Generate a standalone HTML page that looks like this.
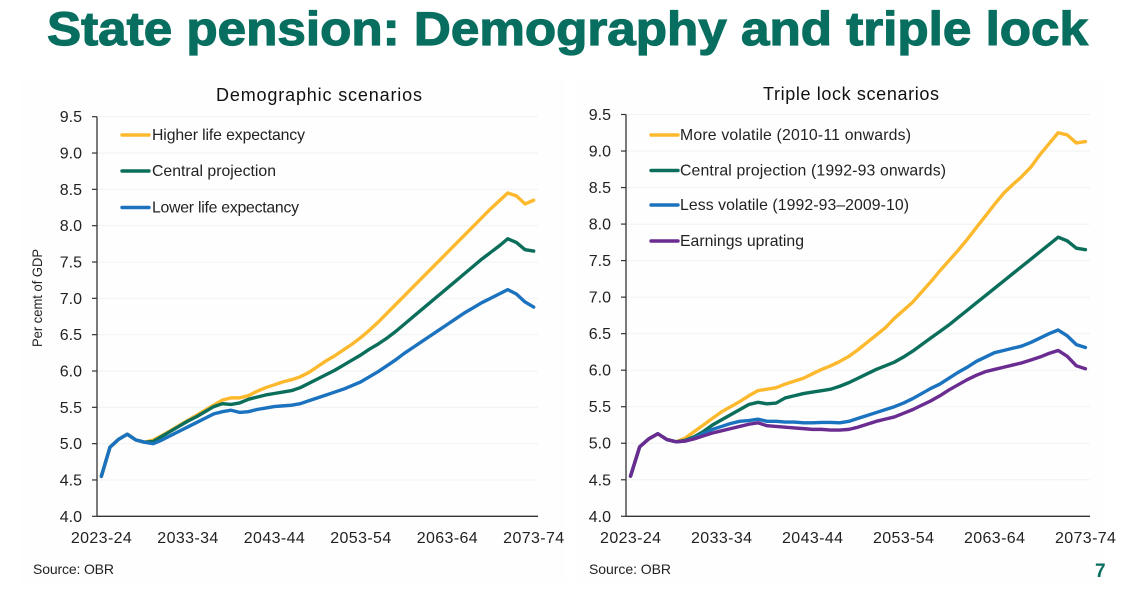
<!DOCTYPE html>
<html lang="en">
<head>
<meta charset="utf-8">
<title>State pension: Demography and triple lock</title>
<style>
html,body{margin:0;padding:0;background:#fff;}
svg{display:block;font-family:"Liberation Sans",sans-serif;}
</style>
</head>
<body>
<svg id="slide" width="1146" height="592" viewBox="0 0 1146 592" xmlns="http://www.w3.org/2000/svg">
  <rect width="1146" height="592" fill="#ffffff"/>
  <rect x="20" y="78" width="545" height="505" fill="#fefefe"/>
  <rect x="575" y="78" width="530" height="505" fill="#fefefe"/>
  <text x="47" y="45" font-size="47" font-weight="700" fill="#086e5f" stroke="#086e5f" stroke-width="1.2" textLength="1041" lengthAdjust="spacingAndGlyphs">State pension: Demography and triple lock</text>

  <text x="319" y="101" font-size="18" text-anchor="middle" fill="#111" textLength="206">Demographic scenarios</text>
  <text x="851" y="100" font-size="18" text-anchor="middle" fill="#111" textLength="176">Triple lock scenarios</text>

  <g id="left-plot"></g>
  <g id="right-plot"></g>

  <text transform="translate(42,298) rotate(-90)" font-size="14" text-anchor="middle" fill="#222" textLength="98" lengthAdjust="spacingAndGlyphs">Per cemt of GDP</text>

  <g font-size="15.8" fill="#222">
    <line x1="122" x2="149" y1="135" y2="135" stroke="#fdb92e" stroke-width="3.4" stroke-linecap="round"/>
    <text x="152" y="140" textLength="153">Higher life expectancy</text>
    <line x1="122" x2="149" y1="171" y2="171" stroke="#0b6e5b" stroke-width="3.4" stroke-linecap="round"/>
    <text x="152" y="176" textLength="124">Central projection</text>
    <line x1="122" x2="149" y1="207.5" y2="207.5" stroke="#1b72be" stroke-width="3.4" stroke-linecap="round"/>
    <text x="152" y="212.5" textLength="147">Lower life expectancy</text>
  </g>
  <g font-size="15.8" fill="#222">
    <line x1="651" x2="678" y1="135" y2="135" stroke="#fdb92e" stroke-width="3.4" stroke-linecap="round"/>
    <text x="680" y="140" textLength="231">More volatile (2010-11 onwards)</text>
    <line x1="651" x2="678" y1="170.5" y2="170.5" stroke="#0b6e5b" stroke-width="3.4" stroke-linecap="round"/>
    <text x="680" y="175.5" textLength="266">Central projection (1992-93 onwards)</text>
    <line x1="651" x2="678" y1="205" y2="205" stroke="#1b72be" stroke-width="3.4" stroke-linecap="round"/>
    <text x="680" y="210" textLength="229">Less volatile (1992-93–2009-10)</text>
    <line x1="651" x2="678" y1="241" y2="241" stroke="#6a2c91" stroke-width="3.4" stroke-linecap="round"/>
    <text x="680" y="246" textLength="124">Earnings uprating</text>
  </g>

  <text x="33" y="574" font-size="14" fill="#222" textLength="81">Source: OBR</text>
  <text x="589" y="574" font-size="14" fill="#222" textLength="82">Source: OBR</text>
  <text x="1095" y="577" font-size="19" font-weight="700" fill="#086e5f">7</text>
</svg>
<script>
var yTicks = ["4.0","4.5","5.0","5.5","6.0","6.5","7.0","7.5","8.0","8.5","9.0","9.5"];
var xTickLabels = ["2023-24","2033-34","2043-44","2053-54","2063-64","2073-74"];
var xTickEvery = 10;

var demoHigher = [4.55,4.95,5.06,5.13,5.05,5.02,5.05,5.11,5.18,5.25,5.32,5.39,5.46,5.53,5.60,5.63,5.63,5.66,5.72,5.77,5.81,5.85,5.88,5.92,5.98,6.06,6.14,6.21,6.29,6.37,6.46,6.56,6.67,6.79,6.91,7.03,7.15,7.27,7.39,7.51,7.63,7.75,7.87,7.99,8.11,8.23,8.34,8.45,8.41,8.30,8.35];
var demoCentral = [4.55,4.95,5.06,5.13,5.05,5.02,5.03,5.10,5.17,5.24,5.31,5.37,5.44,5.51,5.55,5.54,5.56,5.61,5.64,5.67,5.69,5.71,5.73,5.77,5.83,5.89,5.95,6.01,6.08,6.15,6.22,6.30,6.37,6.45,6.54,6.64,6.74,6.84,6.94,7.04,7.14,7.24,7.34,7.44,7.54,7.63,7.72,7.82,7.77,7.67,7.65];
var demoLower = [4.55,4.95,5.06,5.13,5.05,5.02,5.00,5.05,5.11,5.17,5.23,5.29,5.35,5.41,5.44,5.46,5.43,5.44,5.47,5.49,5.51,5.52,5.53,5.55,5.59,5.63,5.67,5.71,5.75,5.80,5.85,5.92,5.99,6.07,6.15,6.24,6.32,6.40,6.48,6.56,6.64,6.72,6.80,6.87,6.94,7.00,7.06,7.12,7.06,6.95,6.88];

var tripleMore = [4.55,4.95,5.06,5.13,5.05,5.02,5.07,5.16,5.25,5.34,5.43,5.50,5.57,5.65,5.72,5.74,5.76,5.81,5.85,5.89,5.95,6.01,6.06,6.12,6.19,6.28,6.38,6.48,6.58,6.71,6.82,6.93,7.07,7.21,7.36,7.50,7.64,7.79,7.95,8.11,8.27,8.42,8.54,8.65,8.78,8.95,9.10,9.25,9.22,9.11,9.13];
var tripleCentral = [4.55,4.95,5.06,5.13,5.05,5.02,5.04,5.09,5.16,5.25,5.32,5.39,5.46,5.53,5.56,5.54,5.55,5.62,5.65,5.68,5.70,5.72,5.74,5.78,5.83,5.89,5.95,6.01,6.06,6.11,6.18,6.26,6.35,6.44,6.53,6.62,6.72,6.82,6.92,7.02,7.12,7.22,7.32,7.42,7.52,7.62,7.72,7.82,7.77,7.67,7.65];
var tripleLess = [4.55,4.95,5.06,5.13,5.05,5.02,5.03,5.07,5.13,5.19,5.23,5.27,5.30,5.31,5.33,5.30,5.30,5.29,5.29,5.28,5.28,5.285,5.285,5.28,5.30,5.34,5.38,5.42,5.46,5.50,5.55,5.61,5.68,5.75,5.81,5.89,5.97,6.04,6.12,6.18,6.24,6.27,6.30,6.33,6.38,6.44,6.50,6.55,6.47,6.35,6.31];
var tripleEarnings = [4.55,4.95,5.06,5.13,5.05,5.02,5.03,5.06,5.10,5.14,5.17,5.20,5.23,5.26,5.28,5.24,5.23,5.22,5.21,5.20,5.19,5.19,5.18,5.18,5.19,5.22,5.26,5.30,5.33,5.36,5.41,5.46,5.52,5.58,5.65,5.73,5.80,5.87,5.93,5.98,6.01,6.04,6.07,6.10,6.14,6.18,6.23,6.27,6.19,6.06,6.02];

var NS = "http://www.w3.org/2000/svg";

function mk(parent, tag, attrs) {
  var el = document.createElementNS(NS, tag);
  for (var k in attrs) { el.setAttribute(k, attrs[k]); }
  parent.appendChild(el);
  return el;
}

function drawChart(groupId, left, right, top, bottom, tickRight, series) {
  var g = document.getElementById(groupId);
  var vMin = parseFloat(yTicks[0]);
  var vMax = parseFloat(yTicks[yTicks.length - 1]);
  var n = series[0].values.length;
  function xScale(i) { return left + (right - left) * (i + 0.5) / n; }
  function yScale(v) { return bottom - (bottom - top) * (v - vMin) / (vMax - vMin); }

  yTicks.forEach(function (t) {
    var y = yScale(parseFloat(t));
    if (parseFloat(t) > vMin) {
      var grid = mk(g, "line", {x1: left, x2: right, y1: y, y2: y, stroke: "#f2f2f2", "stroke-width": 1});
      
      
    }
    var tick = mk(g, "line", {x1: left - 5, x2: left, y1: y, y2: y, stroke: "#333", "stroke-width": 1.2});
    
    
    var label = mk(g, "text", {x: tickRight, y: y + 5.5, "font-size": 16, "text-anchor": "end", fill: "#222"});
    label.textContent = t;
    
    
  });

  xTickLabels.forEach(function (t, idx) {
    var label = mk(g, "text", {x: xScale(idx * xTickEvery), y: 543, "font-size": 16, "text-anchor": "middle", fill: "#222", textLength: 61});
    label.textContent = t;
    
    
  });

  var yAxis = mk(g, "line", {x1: left, x2: left, y1: top, y2: bottom, stroke: "#333", "stroke-width": 1.3});
  
  
  var xAxis = mk(g, "line", {x1: left, x2: right, y1: bottom, y2: bottom, stroke: "#333", "stroke-width": 1.3});
  
  

  series.forEach(function (s) {
    var pts = s.values.map(function (v, i) { return xScale(i).toFixed(2) + "," + yScale(v).toFixed(2); }).join(" ");
    var line = mk(g, "polyline", {points: pts, fill: "none", stroke: s.color, "stroke-width": 3.4, "stroke-linejoin": "round", "stroke-linecap": "round"});
    
    
  });
}

drawChart("left-plot", 97, 538, 116.7, 516.3, 82, [
  {name: "series-higher-life-expectancy", color: "#fdb92e", values: demoHigher},
  {name: "series-central-projection", color: "#0b6e5b", values: demoCentral},
  {name: "series-lower-life-expectancy", color: "#1b72be", values: demoLower}
]);
drawChart("right-plot", 626, 1090, 114.5, 516.3, 611, [
  {name: "series-more-volatile", color: "#fdb92e", values: tripleMore},
  {name: "series-central-triple-lock", color: "#0b6e5b", values: tripleCentral},
  {name: "series-less-volatile", color: "#1b72be", values: tripleLess},
  {name: "series-earnings-uprating", color: "#6a2c91", values: tripleEarnings}
]);
</script>
</body>
</html>
